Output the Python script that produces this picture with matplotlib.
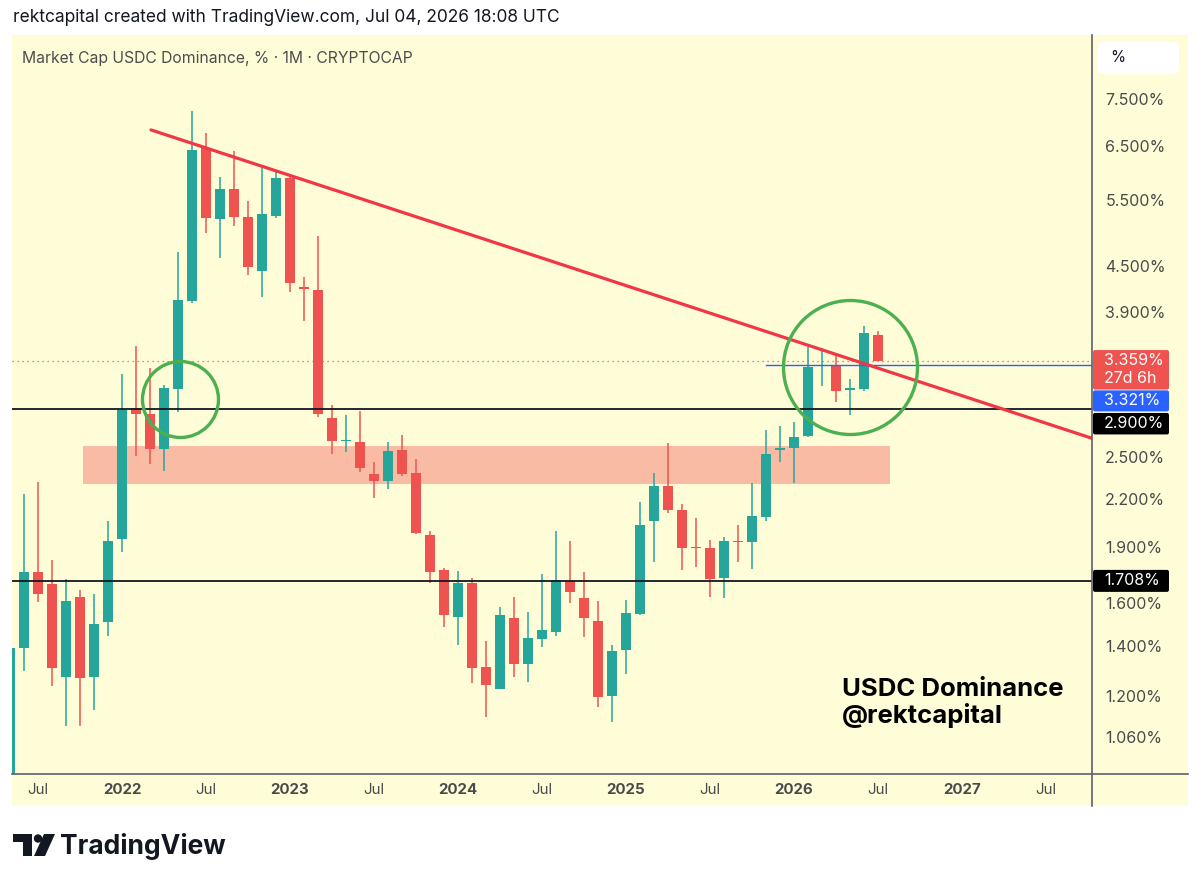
"""
USDC dominance, monthly candles (TradingView screenshot rebuilt)
"""
import matplotlib
matplotlib.use("Agg")
import matplotlib.pyplot as plt
from matplotlib.patches import Rectangle, Polygon, Circle, FancyBboxPatch

plt.rcParams['font.family'] = ['Inter', 'DejaVu Sans']

# monthly candles, index 0 = May 2021 ... index 62 = Jul 2026
opens = [0.93, 1.394, 1.760, 1.695, 1.272, 1.627, 1.272, 1.508,
         1.944, 2.907, 2.856, 2.563, 3.087, 4.041, 6.457, 5.198, 5.694, 5.225, 4.434, 5.245,
         5.889, 4.22, 4.180, 2.824, 2.625, 2.619, 2.374, 2.325, 2.558, 2.381, 1.970, 1.769,
         1.531, 1.699, 1.314, 1.229, 1.527, 1.325, 1.433, 1.464, 1.712, 1.625, 1.513, 1.203,
         1.383, 1.547, 2.057, 2.290, 2.127, 1.90, 1.892, 1.728, 1.935, 1.926, 2.084, 2.555,
         2.571, 2.672, 3.305, 3.32, 3.07, 3.081, 3.640]
highs = [1.39, 2.232, 2.316, 1.825, 1.721, 1.664, 1.644, 2.057,
         3.229, 3.523, 3.286, 3.122, 4.692, 7.246, 6.761, 5.918, 6.409, 5.498, 6.073, 6.010,
         5.907, 4.354, 4.933, 2.936, 2.848, 2.883, 2.461, 2.621, 2.678, 2.488, 1.996, 1.779,
         1.764, 1.728, 1.423, 1.578, 1.627, 1.554, 1.748, 1.995, 1.934, 1.760, 1.609, 1.403,
         1.614, 2.182, 2.381, 2.611, 2.165, 2.074, 1.940, 1.960, 2.030, 2.313, 2.720, 2.753,
         2.785, 3.512, 3.494, 3.424, 3.178, 3.742, 3.689]
lows = [0.92, 1.299, 1.603, 1.237, 1.094, 1.097, 1.151, 1.445,
        1.872, 2.513, 2.448, 2.394, 2.877, 4.013, 4.974, 4.607, 5.087, 4.376, 4.087, 5.209,
        4.150, 3.803, 2.833, 2.526, 2.537, 2.388, 2.205, 2.269, 2.362, 1.974, 1.702, 1.487,
        1.406, 1.252, 1.128, 1.228, 1.275, 1.255, 1.396, 1.446, 1.598, 1.439, 1.163, 1.109,
        1.286, 1.541, 1.810, 2.106, 1.769, 1.784, 1.629, 1.625, 1.812, 1.776, 2.058, 2.463,
        2.313, 2.660, 3.113, 2.966, 2.848, 3.066, 3.355]
closes = [1.39, 1.757, 1.645, 1.309, 1.610, 1.269, 1.499, 1.936,
          2.892, 2.856, 2.563, 3.091, 4.049, 6.423, 5.209, 5.694, 5.235, 4.481, 5.273, 5.889,
          4.266, 4.19, 2.854, 2.625, 2.64, 2.422, 2.328, 2.546, 2.378, 1.984, 1.760, 1.540,
          1.699, 1.309, 1.243, 1.540, 1.325, 1.436, 1.471, 1.716, 1.655, 1.527, 1.199, 1.380,
          1.552, 2.030, 2.290, 2.127, 1.895, 1.89, 1.720, 1.934, 1.925, 2.087, 2.526, 2.57,
          2.664, 3.303, 3.32, 3.068, 3.09, 3.659, 3.359]

tick_idx = [2, 8, 14, 20, 26, 32, 38, 44, 50, 56, 62, 68, 74]
tick_labels = ['Jul', '2022', 'Jul', '2023', 'Jul', '2024', 'Jul',
               '2025', 'Jul', '2026', 'Jul', '2027', 'Jul']
price_ticks = [1.06, 1.2, 1.4, 1.6, 1.9, 2.2, 2.5, 3.9, 4.5, 5.5, 6.5, 7.5]

support_levels = [2.9, 1.708]
last_close = 3.359
blue_level = 3.321
blue_start = 54
zone_lo, zone_hi = 2.30, 2.59
zone_start, zone_end = 5.2, 62.9
trend_x = [10.07, 77.3]
trend_y = [6.83, 2.65]
circle_x = [12.14, 60.04]
circle_y = [2.99, 3.30]
circle_r = [38, 67]   # radius in pixels

TEAL = '#26A69A'
RED = '#EF5350'
W, H = 1200, 885
LBL = 11.5

fig = plt.figure(figsize=(12, 8.85), dpi=100)

# background panel (pixel coordinates)
bg = fig.add_axes([0, 0, 1, 1], zorder=0)
bg.set_xlim(0, W)
bg.set_ylim(H, 0)
bg.axis('off')
bg.add_patch(Rectangle((12, 35), 1176, 771, facecolor='#FFFDD7', edgecolor='none'))

ax = fig.add_axes([12 / W, (H - 773.5) / H, 1080 / W, 738.5 / H], zorder=1)
ax.set_facecolor('none')
ax.set_yscale('log')

x = list(range(len(opens)))
cols = [TEAL if c >= o else RED for o, c in zip(opens, closes)]
ax.vlines(x, lows, highs, colors=cols, lw=1.1, zorder=3)
ax.bar(x, [abs(c - o) for o, c in zip(opens, closes)],
       bottom=[min(o, c) for o, c in zip(opens, closes)],
       width=0.73, color=cols, linewidth=0, zorder=4)

ax.set_xlim(0.14, 77.3)
ax.set_ylim(0.947, 9.14)

# zone, levels, trendline, circles
ax.fill_between([zone_start, zone_end], zone_lo, zone_hi, color='#FABBA5', lw=0, zorder=2)
for lv in support_levels:
    ax.axhline(lv, color='#131722', lw=1.3, zorder=5)
ax.axhline(last_close, color=RED, lw=0.9, ls=(0, (1, 3)), zorder=5)
ax.plot([blue_start, 77.3], [blue_level, blue_level], color='#2962FF', lw=1.0, zorder=5)
ax.plot(trend_x, trend_y, color='#F23645', lw=2.3, solid_capstyle='round', zorder=6)
for cx, cy, r in zip(circle_x, circle_y, circle_r):
    ax.plot(cx, cy, 'o', ms=2 * r * 72 / 100, mfc='none', mec='#4CAF50', mew=2.4, zorder=7)

# axes cosmetics
for s in ax.spines.values():
    s.set_visible(False)
ax.yaxis.tick_right()
ax.set_yticks(price_ticks)
ax.set_yticklabels(['%.3f%%' % v for v in price_ticks])
ax.yaxis.set_minor_locator(matplotlib.ticker.NullLocator())
ax.tick_params(axis='y', length=0, pad=9.5, labelsize=LBL, labelcolor='#4a4a4a')
ax.set_xticks(tick_idx)
ax.set_xticklabels(tick_labels)
ax.tick_params(axis='x', length=0, pad=7, labelsize=10.8, labelcolor='#4a4a4a')
for lab in ax.get_xticklabels():
    if lab.get_text() != 'Jul':
        lab.set_fontweight('bold')

# overlay for labels and decorations
ov = fig.add_axes([0, 0, 1, 1], zorder=2)
ov.set_xlim(0, W)
ov.set_ylim(H, 0)
ov.axis('off')


def py(v):
    return H - ax.transData.transform((0, v))[1]


ov.plot([12, 1188], [773.5, 773.5], color='#5d606b', lw=1.2)
ov.plot([1092, 1092], [35, 806], color='#5d606b', lw=1.2)

ov.text(13, 17, 'rektcapital created with TradingView.com, Jul 04, 2026 18:08 UTC',
        fontsize=12.5, color='#131722', va='center')
ov.text(22, 59, 'Market Cap USDC Dominance, % \u00b7 1M \u00b7 CRYPTOCAP',
        fontsize=11.3, color='#4d4d4d', va='center')

ov.add_patch(FancyBboxPatch((1098, 42), 81, 32, boxstyle='round,pad=0,rounding_size=5',
                            facecolor='white', edgecolor='none'))
ov.text(1110, 58, '%', fontsize=11, color='#131722', va='center')


def price_box(top, height, color):
    ov.add_patch(FancyBboxPatch((1093, top), 76, height,
                                boxstyle='round,pad=0,rounding_size=2',
                                facecolor=color, edgecolor='none'))


# price labels
yc = py(last_close)
price_box(yc - 11, 39.5, RED)
ov.text(1104, yc - 0.7, '%.3f%%' % last_close, color='white', fontsize=LBL, va='center')
ov.text(1104, yc + 17.3, '27d 6h', color='white', fontsize=LBL, va='center')
yb = py(blue_level)
price_box(yb + 25.6, 21, '#2962FF')
ov.text(1104, yb + 36, '%.3f%%' % blue_level, color='white', fontsize=LBL, va='center')
yk = py(support_levels[0])
price_box(yk + 4, 21.5, 'black')
ov.text(1104, yk + 15, '%.3f%%' % support_levels[0], color='white', fontsize=LBL, va='center')
yk2 = py(support_levels[1])
price_box(yk2 - 11.5, 22, 'black')
ov.text(1104, yk2 - 0.5, '%.3f%%' % support_levels[1], color='white', fontsize=LBL, va='center')

# watermark
ov.text(842, 689, 'USDC Dominance', fontsize=18.5, fontweight='bold', color='black', va='center')
ov.text(842, 716, '@rektcapital', fontsize=18.5, fontweight='bold', color='black', va='center')

# TradingView logo
ov.add_patch(Polygon([(13, 834), (32, 834), (32, 856), (23, 856), (23, 842), (13, 842)],
                     facecolor='#131722', edgecolor='none'))
ov.add_patch(Circle((38, 838.5), 4.2, facecolor='#131722', edgecolor='none'))
ov.add_patch(Polygon([(44, 834), (55, 834), (45, 856), (34, 856)],
                     facecolor='#131722', edgecolor='none'))
ov.text(60, 846, 'TradingView', fontsize=19, fontweight='bold', color='#131722', va='center')

fig.savefig('out.png', dpi=100, facecolor='white')
